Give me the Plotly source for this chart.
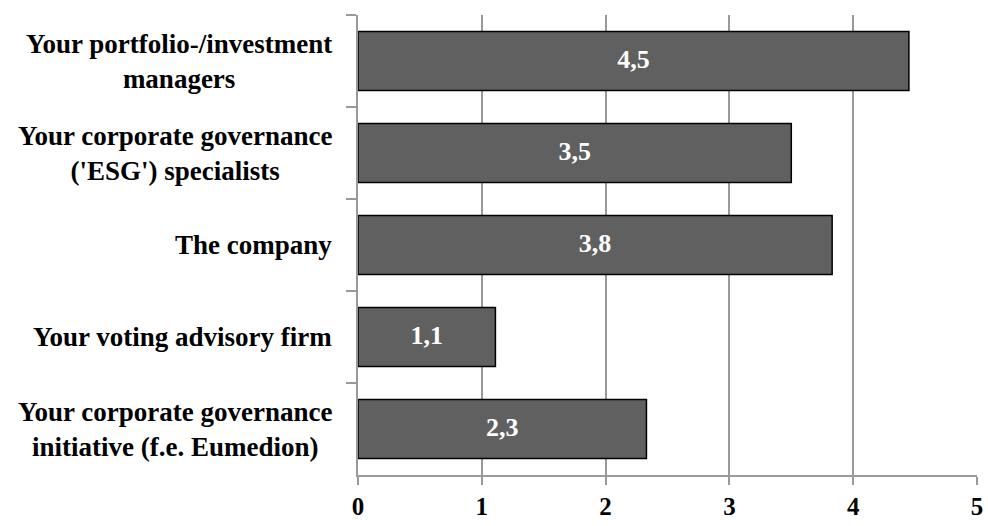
import plotly.graph_objects as go

categories = [
    "Your portfolio-/investment<br>managers",
    "Your corporate governance<br>('ESG') specialists",
    "The company",
    "Your voting advisory firm",
    "Your corporate governance<br>initiative (f.e. Eumedion)",
]
values = [4.45, 3.50, 3.83, 1.11, 2.33]
value_labels = ["4,5", "3,5", "3,8", "1,1", "2,3"]
x_ticks = [0, 1, 2, 3, 4, 5]

FONT = "Liberation Serif"
GRID = "#9a9a9a"

fig = go.Figure()
fig.add_trace(go.Bar(
    y=categories,
    x=values,
    orientation="h",
    width=0.64,
    marker=dict(color="#606060", line=dict(color="#000000", width=1.5)),
    hoverinfo="skip",
))
fig.add_trace(go.Scatter(
    y=categories,
    x=[v / 2 for v in values],
    mode="text",
    text=value_labels,
    textposition="middle center",
    textfont=dict(family=FONT, size=26, color="white", weight="bold"),
    hoverinfo="skip",
))

for c in categories:
    fig.add_annotation(
        x=0, xref="paper", y=c, yref="y",
        text=c, showarrow=False,
        xanchor="right", yanchor="middle", align="center",
        xshift=-24,
        font=dict(family=FONT, size=27, color="black", weight="bold"),
    )

fig.update_layout(
    width=988, height=526,
    margin=dict(l=358, r=11, t=15, b=51, autoexpand=False),
    plot_bgcolor="white", paper_bgcolor="white",
    showlegend=False,
    xaxis=dict(
        range=[0, 5],
        tickvals=x_ticks,
        ticktext=[str(v) for v in x_ticks],
        showgrid=True, gridcolor=GRID, gridwidth=1.5,
        showline=True, linecolor=GRID, linewidth=1.5,
        ticks="outside", ticklen=8, tickcolor=GRID, tickwidth=1.5,
        ticklabelstandoff=0,
        automargin=False,
        tickfont=dict(family=FONT, size=25, color="black", weight="bold"),
        zeroline=False, fixedrange=True,
    ),
    yaxis=dict(
        autorange="reversed",
        showticklabels=False,
        showline=True, linecolor=GRID, linewidth=1.5,
        ticks="outside", tickson="boundaries", ticklen=10, tickcolor=GRID, tickwidth=1.5,
        showgrid=False, zeroline=False, fixedrange=True,
    ),
)

fig.write_html("out.html")
